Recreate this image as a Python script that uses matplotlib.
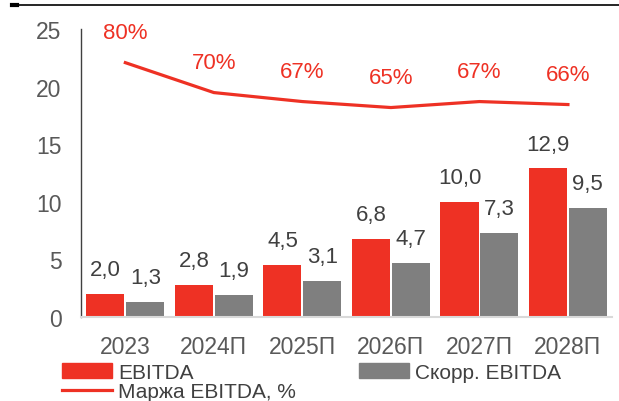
import numpy as np
import matplotlib.pyplot as plt
from matplotlib.lines import Line2D
from matplotlib.patches import Patch

plt.rcParams['font.family'] = ['Liberation Sans', 'DejaVu Sans']

# данные
years = ['2023', '2024П', '2025П', '2026П', '2027П', '2028П']
ebitda = [2.0, 2.8, 4.5, 6.8, 10.0, 12.9]
ebitda_adj = [1.3, 1.9, 3.1, 4.7, 7.3, 9.5]
margin = [80, 70, 67, 65, 67, 66]

red = '#EE3124'
grey = '#7F7F7F'
txt = '#404040'

fig = plt.figure(figsize=(6.19, 4.02), dpi=100)
ax = fig.add_axes([0.131, 0.209, 0.858, 0.716])

x = np.arange(len(years))
w = 0.43
ax.bar(x - 0.225, ebitda, width=w, color=red)
ax.bar(x + 0.225, ebitda_adj, width=w, color=grey)

for xi, v in zip(x - 0.225, ebitda):
    ax.annotate(f'{v:.1f}'.replace('.', ','), (xi, v), xytext=(0, 17.5),
                textcoords='offset points', ha='center', va='center',
                fontsize=16, color=txt)
for xi, v in zip(x + 0.225, ebitda_adj):
    ax.annotate(f'{v:.1f}'.replace('.', ','), (xi, v), xytext=(0, 17.5),
                textcoords='offset points', ha='center', va='center',
                fontsize=16, color=txt)

ax.set_xlim(-0.5, 5.5)
ax.set_ylim(0, 25)
ax.set_yticks([0, 5, 10, 15, 20, 25])
ax.set_xticks(x)
ax.set_xticklabels(years)
ax.tick_params(axis='both', length=0, labelsize=16.5, colors='#595959')
ax.tick_params(axis='y', pad=14)
ax.tick_params(axis='x', pad=13)
for s in ['top', 'right']:
    ax.spines[s].set_visible(False)
ax.spines['left'].set_color('#404040')
ax.spines['left'].set_linewidth(1.0)
ax.spines['bottom'].set_color('#D9D9D9')
ax.spines['bottom'].set_linewidth(1.5)

# маржа на второй оси
ax2 = ax.twinx()
ax2.plot(x, margin, color=red, lw=2.3)
ax2.set_ylim(-5, 91.2)
ax2.axis('off')
for xi, m in zip(x, margin):
    ax2.annotate(f'{m}%', (xi, m), xytext=(0, 21.5), textcoords='offset points',
                 ha='center', va='center', fontsize=16, color=red)

# линия сверху
fig.add_artist(Line2D([0.02, 1.0], [0.985, 0.985], transform=fig.transFigure,
                      color='black', lw=1.2))
fig.add_artist(Line2D([0.02, 0.028], [0.985, 0.985], transform=fig.transFigure,
                      color='black', lw=3))

handles = [Patch(color=red), Line2D([], [], color=red, lw=2.3), Patch(color=grey)]
labels = ['EBITDA', 'Маржа EBITDA, %', 'Скорр. EBITDA']
fig.legend(handles, labels, ncol=2, loc='upper left', bbox_to_anchor=(0.1, 0.095),
           frameon=False, fontsize=15, handlelength=2.4, handleheight=0.7,
           columnspacing=3.0, labelspacing=0.0, handletextpad=0.3,
           labelcolor='#404040', borderaxespad=0, borderpad=0)

fig.savefig('out.png', dpi=100)
